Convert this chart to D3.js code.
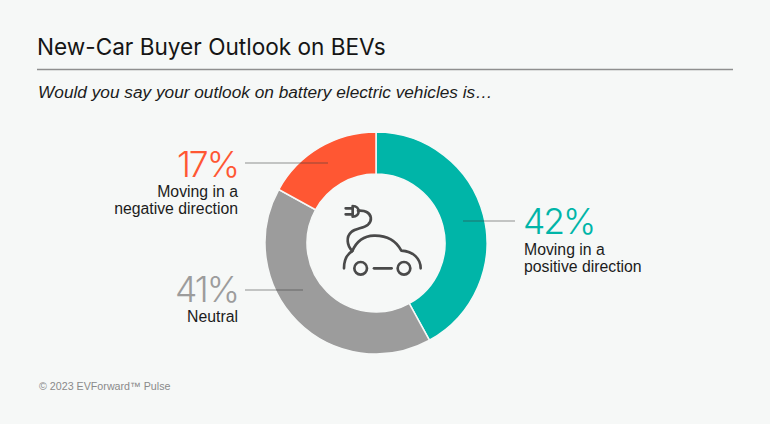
<!DOCTYPE html>
<html>
<head>
<meta charset="utf-8">
<script src="https://cdn.jsdelivr.net/npm/d3@7"></script>
<style>
  html, body { margin: 0; padding: 0; background: #f6f8f7; }
  svg { display: block; }
  text { font-family: "Liberation Sans", Arial, sans-serif; }
</style>
</head>
<body>
<div id="chart"></div>
<script>
const categories = ['positive', 'neutral', 'negative'];
const shares = [42, 41, 17];
const labelLines = [
  ['Moving in a', 'positive direction'],
  ['Neutral'],
  ['Moving in a', 'negative direction'],
];

const width = 770;
const height = 424;
const cx = 376;
const cy = 243;

const color = d3.scaleOrdinal()
  .domain(categories)
  .range(['#00b5a8', '#9c9c9c', '#ff5733']);

// callout placement, one per category
const callouts = {
  positive: { anchor: 'start', textX: 523, pctY: 234, lineY: [255, 272], leader: [463, 515, 221] },
  neutral: { anchor: 'end', textX: 238, pctY: 302, lineY: [322], leader: [245, 303, 290] },
  negative: { anchor: 'end', textX: 238, pctY: 177, lineY: [197, 214], leader: [245, 328, 163] },
};

const svg = d3.select('#chart').append('svg')
  .attr('width', width)
  .attr('height', height);

svg.append('rect')
  .attr('width', width)
  .attr('height', height)
  .attr('fill', '#f6f8f7');

// header
svg.append('text')
  .attr('x', 37)
  .attr('y', 55)
  .attr('fill', '#151515')
  .style('font-family', 'Inter, sans-serif')
  .style('font-size', '22.6px')
  .text('New-Car Buyer Outlook on BEVs');

svg.append('line')
  .attr('x1', 37)
  .attr('x2', 733)
  .attr('y1', 69.5)
  .attr('y2', 69.5)
  .attr('stroke', '#8f8f8f')
  .attr('stroke-width', 1.3);

svg.append('text')
  .attr('x', 38)
  .attr('y', 98)
  .attr('fill', '#1c1c1c')
  .style('font-size', '17.25px')
  .style('font-style', 'italic')
  .text('Would you say your outlook on battery electric vehicles is…');

// donut
const pie = d3.pie().sort(null)(shares);
const arc = d3.arc().innerRadius(69).outerRadius(111);

const donut = svg.append('g').attr('transform', `translate(${cx},${cy})`);

donut.selectAll('path')
  .data(pie)
  .join('path')
  .attr('d', arc)
  .attr('fill', (d, i) => color(categories[i]))
  .attr('stroke', '#f6f8f7')
  .attr('stroke-width', 1.5);

// callouts
categories.forEach((cat, i) => {
  const c = callouts[cat];

  svg.append('line')
    .attr('x1', c.leader[0])
    .attr('x2', c.leader[1])
    .attr('y1', c.leader[2])
    .attr('y2', c.leader[2])
    .attr('stroke', '#3c3c3c')
    .attr('stroke-opacity', 0.55)
    .attr('stroke-width', 1);

  svg.append('text')
    .attr('x', c.textX)
    .attr('y', c.pctY)
    .attr('text-anchor', c.anchor)
    .attr('fill', color(cat))
    .style('font-family', 'Inter, sans-serif')
    .style('font-weight', 300)
    .style('font-size', '35.5px')
    .style('letter-spacing', '-2px')
    .text(`${shares[i]}%`);

  labelLines[i].forEach((line, j) => {
    svg.append('text')
      .attr('x', c.textX + (c.anchor === 'start' ? 1 : 0))
      .attr('y', c.lineY[j])
      .attr('text-anchor', c.anchor)
      .attr('fill', '#1c1c1c')
      .style('font-size', '15.8px')
      .text(line);
  });
});

// plug + car icon, drawn at 3x and scaled down
const icon = svg.append('g')
  .attr('transform', 'translate(300,180) scale(0.3333)')
  .attr('fill', 'none')
  .attr('stroke', '#4a4a4a')
  .attr('stroke-width', 8)
  .attr('stroke-linecap', 'round')
  .attr('stroke-linejoin', 'round');

icon.append('path').attr('d', 'M132,265 C132,240 142,222 157,213 C168,188 190,168 222,167 C262,166 288,182 304,212 C340,214 362,236 362,265');
icon.append('path').attr('d', 'M157,213 C140,196 138,170 154,156 C168,144 190,146 204,134 C218,120 214,104 200,96 C192,91 184,92 174,92');
icon.append('path').attr('d', 'M158,78 L158,110 C170,110 176,102 176,94 C176,86 170,78 158,78 Z');
icon.append('path').attr('d', 'M158,85 L137,85 M158,103 L137,103');
icon.append('path').attr('d', 'M222,265 L275,265');
icon.selectAll('circle')
  .data([182, 312])
  .join('circle')
  .attr('cx', d => d)
  .attr('cy', 265)
  .attr('r', 19);

// footer
svg.append('text')
  .attr('x', 39)
  .attr('y', 390)
  .attr('fill', '#8a8a8a')
  .style('font-size', '10.7px')
  .text('© 2023 EVForward™ Pulse');
</script>
</body>
</html>
